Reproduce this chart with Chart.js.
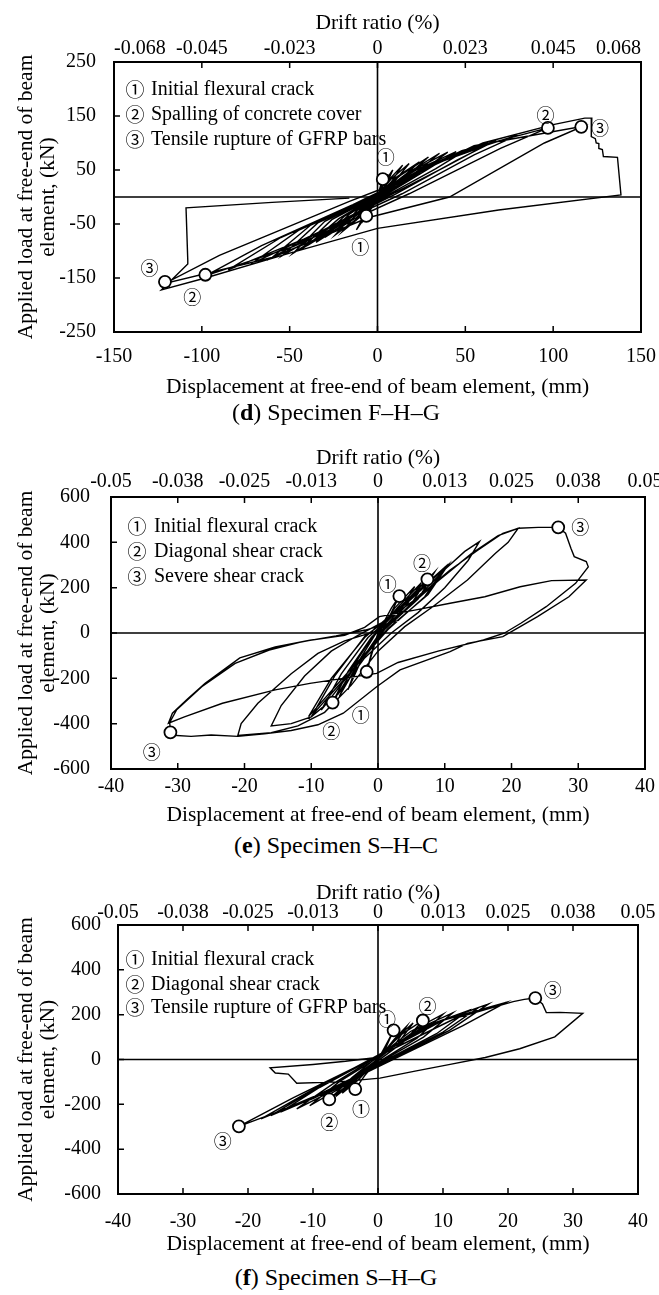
<!DOCTYPE html>
<html lang="en">
<head>
  <meta charset="UTF-8">
  <title>Load-displacement hysteresis</title>
  <script src="https://cdn.jsdelivr.net/npm/chart.js"></script>
  <style>
    body {
      margin: 0;
      background: #fff;
      width: 659px;
      height: 1295px;
      position: relative;
      overflow: hidden;
      font-family: 'Liberation Serif', serif;
    }
    .panel { position: absolute; left: 0; }
    .caption {
      position: absolute;
      left: 0;
      width: 672px;
      text-align: center;
      font-size: 24px;
      line-height: 28px;
      color: #000;
      z-index: 2;
    }
  </style>
</head>
<body>
<canvas id="chartD" class="panel" style="top:0" width="659" height="400"></canvas>
<div class="caption" style="top:398px">(<b>d</b>) Specimen F–H–G</div>
<canvas id="chartE" class="panel" style="top:430px" width="659" height="400"></canvas>
<div class="caption" style="top:831px">(<b>e</b>) Specimen S–H–C</div>
<canvas id="chartF" class="panel" style="top:860px" width="659" height="400"></canvas>
<div class="caption" style="top:1263px">(<b>f</b>) Specimen S–H–G</div>

<script>
  // ---- (d) Specimen F-H-G ----
  var xTicksD = [-150, -100, -50, 0, 50, 100, 150];
  var yTicksD = [-250, -150, -50, 50, 150, 250];
  var driftD = ['-0.068', '-0.045', '-0.023', '0', '0.023', '0.045', '0.068'];
  var notesD = ['Initial flexural crack', 'Spalling of concrete cover', 'Tensile rupture of GFRP bars'];
  // displacement (mm), load (kN) read along the recorded path
  var curveD = [
    [0, 0], [1.5, 18], [3, 33], [1.2, 8], [-1.5, -12], [-6.4, -35], [-2.5, -10], [0, 0],
    [4, 28], [8.7, 50], [4, 15], [-2, -8], [-6, -32], [-12, -61], [-5, -18], [0, -2],
    [3, 22], [6, 42], [3, 12], [-2, -10], [-9, -48], [-4, -14], [0, 0],
    [6, 30], [14.3, 59], [7, 24], [0, 0], [-8, -32], [-20, -64], [-10, -24], [-2, -4],
    [8, 34], [18, 62], [9, 26], [0, 2], [-10, -36], [-24, -70], [-12, -26], [-2, -4],
    [10, 35], [23.9, 65], [12, 30], [1, 2], [-12, -38], [-30, -75], [-16, -32], [-3, -4],
    [13, 40], [29, 74], [15, 34], [1, 1], [-15, -42], [-35, -84], [-19, -36], [-3, -5],
    [16, 42], [35.3, 81], [20, 40], [2, 2], [-18, -45], [-40, -90], [-22, -40], [-4, -5],
    [19, 47], [40, 83], [24, 45], [3, 3], [-20, -48], [-44, -98], [-26, -42], [-5, -6],
    [22, 50], [44.8, 84], [28, 50], [5, 5], [-22, -50], [-48, -104], [-30, -45], [-6, -6],
    [26, 54], [52, 90], [33, 52], [6, 4], [-26, -55], [-54, -108], [-34, -48], [-7, -7],
    [30, 58], [59.8, 93], [38, 55], [8, 5], [-30, -60], [-60, -112], [-38, -52], [-8, -8],
    [35, 65], [67.5, 105], [45, 68], [10, 5], [-35, -68], [-72, -124], [-45, -62], [-10, -10],
    [42, 75], [80, 115], [55, 78], [14, 6], [-42, -78], [-85, -135], [-55, -75], [-12, -12],
    [48, 86], [97, 128], [70, 90], [18, 6], [-48, -92], [-98, -146], [-66, -90], [-14, -14],
    [55, 95], [117, 131], [95, 100], [41, 0], [-5, -38], [-60, -112], [-121, -160], [-90, -108], [-16, -8],
    [0, 12], [60, 100], [100, 134], [118, 146], [122, 146], [121.7, 112], [124, 108], [124.5, 100],
    [126, 99], [126, 90], [128, 88], [128.6, 75], [136.6, 73.5], [138.6, 3.7],
    [69, -24], [0, -58], [-48, -102], [-98, -150], [-123, -172], [-108, -124], [-108, -117],
    [-109, -20], [-60, -10], [-16, -2]
  ];
  var markersD = [[3, 33], [-6.4, -35], [97, 128], [-98, -144], [116, 130], [-121, -157]];
  var tagsD = ['①', '①', '②', '②', '③', '③'];
  var tagPosD = [[4.7, 73.5], [-9.8, -92], [95.6, 152], [-105.4, -185], [126.6, 127], [-129.8, -132]];

  // ---- (e) Specimen S-H-C ----
  var xTicksE = [-40, -30, -20, -10, 0, 10, 20, 30, 40];
  var yTicksE = [-600, -400, -200, 0, 200, 400, 600];
  var driftE = ['-0.05', '-0.038', '-0.025', '-0.013', '0', '0.013', '0.025', '0.038', '0.05'];
  var notesE = ['Initial flexural crack', 'Diagonal shear crack', 'Severe shear crack'];
  var curveE = [
    [0, 0], [2, 110], [3.2, 163], [1.5, 60], [0, 0], [-1, -90], [-1.7, -171], [-0.8, -80], [0, 0],
    [2.5, 110], [5.5, 205], [3.5, 110], [0.5, 10], [-2.5, -120], [-4.5, -250], [-3, -130], [-0.5, -10],
    [3, 115], [6.5, 222], [4.2, 120], [0.8, 12], [-3, -135], [-5.8, -280], [-3.8, -150], [-0.8, -15],
    [3.5, 120], [7.4, 237], [5, 130], [1, 15], [-3.5, -150], [-6.8, -307], [-4.5, -170], [-1, -20],
    [4, 130], [8.5, 270], [6, 150], [1, 15], [-4, -170], [-8.5, -340], [-5.5, -180], [-1.5, -20],
    [5, 150], [10.5, 300], [7.5, 170], [1.5, 20], [-5, -190], [-10.4, -369], [-7, -200], [-2, -20],
    [4.5, 145], [10, 290], [7, 160], [1.5, 15], [-4.5, -185], [-9.8, -360], [-6.5, -190], [-2, -15],
    [1.3, 57], [5.5, 146], [10, 280], [13, 360], [15.2, 403], [13.5, 320], [10, 200], [6, 90], [2, 0],
    [-2, -110], [-6, -270], [-10, -370], [-13, -400], [-16, -410], [-14.5, -320], [-11, -190], [-7, -80], [-3, -10],
    [1.3, 57], [5.5, 146], [10.8, 278], [15, 366], [18.7, 440], [21, 462], [19.5, 400], [17.6, 352],
    [13.4, 234], [8.2, 116], [4, 28],
    [0, -80], [-4, -230], [-8, -350], [-12, -410], [-16, -440], [-21, -452], [-20.5, -400], [-18, -310],
    [-13, -180], [-9, -90], [-5, -35], [0, 10],
    [4, 100], [9, 230], [14, 350], [18, 430], [21, 462], [24, 466], [27, 466], [28.1, 440], [28.9, 374],
    [29.4, 337], [31.2, 315], [31.5, 292], [29.6, 219], [25.2, 116], [21.4, 43], [18.9, -1], [15.8, -31],
    [9, -80], [3, -130], [-0.2, -178], [-10.2, -222], [-15.4, -251], [-23.3, -310], [-29, -370], [-31.4, -398],
    [-30.8, -354], [-28.5, -290], [-25.9, -222], [-20.7, -110], [-15.4, -62], [-10.2, -32], [-5, -10],
    [-2, 25], [0.2, 72], [5.5, 101], [10.8, 131], [16, 160], [21.3, 204], [26, 231], [31.2, 234],
    [28.6, 160], [23.9, 72], [21.3, 28], [18.7, -16], [13.4, -46], [10.8, -82], [3.3, -163], [-0.2, -237],
    [-5.2, -354], [-9, -405], [-13, -430], [-17, -445], [-21, -456], [-25, -450], [-28, -456], [-31.3, -450],
    [-31.1, -438], [-31.2, -395], [-30.2, -340], [-26.4, -237], [-21.4, -134], [-16.3, -75], [-11.3, -38],
    [-6.3, -13], [-1.9, 13], [3.2, 57]
  ];
  var markersE = [[3.2, 163], [-1.7, -171], [7.4, 237], [-6.8, -307], [27, 466], [-31.1, -438]];
  var tagsE = ['①', '①', '②', '②', '③', '③'];
  var tagPosE = [[1.45, 215], [-2.6, -362], [6.6, 307], [-7.0, -435], [30.3, 469], [-33.9, -524]];

  // ---- (f) Specimen S-H-G ----
  var xTicksF = [-40, -30, -20, -10, 0, 10, 20, 30, 40];
  var yTicksF = [-600, -400, -200, 0, 200, 400, 600];
  var driftF = ['-0.05', '-0.038', '-0.025', '-0.013', '0', '0.013', '0.025', '0.038', '0.05'];
  var notesF = ['Initial flexural crack', 'Diagonal shear crack', 'Tensile rupture of GFRP bars'];
  var curveF = [
    [0, 0], [1.5, 80], [2.4, 130], [1, 40], [0, 0], [-2, -70], [-3.5, -132], [-1.5, -50], [0, 0],
    [2.5, 90], [4.4, 148], [2.5, 60], [0, 2], [-3, -90], [-5.5, -150], [-3, -70], [-0.5, -10],
    [3, 100], [5.4, 163], [3, 70], [0, 3], [-3.5, -95], [-6.5, -165], [-3.5, -75], [-0.5, -8],
    [3.5, 110], [6.9, 174], [4, 80], [0.5, 5], [-4, -100], [-7.5, -178], [-4, -80], [-1, -10],
    [5, 125], [10, 202], [6, 95], [1, 5], [-5, -115], [-10.5, -206], [-6, -100], [-1, -10],
    [6, 135], [11.5, 208], [7, 100], [1.5, 8], [-6, -125], [-12.5, -220], [-7, -110], [-1.5, -12],
    [7, 145], [13.8, 217], [9, 115], [2, 10], [-7, -135], [-15, -235], [-9, -125], [-2, -15],
    [8, 155], [15.5, 232], [10, 122], [2.5, 12], [-8, -145], [-16.5, -250], [-10, -138], [-2, -14],
    [9, 165], [17, 248], [11, 130], [3, 15], [-9, -155], [-18, -265], [-11, -150], [-2, -12],
    [10, 175], [19.7, 255], [13, 150], [3, 10], [-10, -175], [-21.4, -298], [-13, -170], [-1, 0],
    [12, 185], [20.8, 258], [22.5, 268], [24.2, 274], [25.3, 248], [25.9, 209], [28, 210], [31.5, 206],
    [27.2, 101], [21.8, 48], [16.5, 9], [11.1, -22], [5.7, -52], [0.3, -83], [-6, -100], [-12.5, -106],
    [-13.8, -65], [-15.8, -60], [-16.6, -37], [-10, -22], [-5, -8], [-0.2, 9]
  ];
  var markersF = [[2.4, 130], [-3.5, -132], [6.9, 174], [-7.5, -178], [24.2, 274], [-21.4, -298]];
  var tagsF = ['①', '①', '②', '②', '③', '③'];
  var tagPosF = [[1.4, 181], [-2.6, -222], [7.6, 240], [-7.5, -280], [26.9, 309], [-23.9, -363]];

  var serif = function (size, lh) { return { family: 'Liberation Serif', size: size, lineHeight: lh || 1.2 }; };
  var glyphFont = '"Noto Sans CJK JP", "DejaVu Sans", sans-serif';

  // box, zero lines, inward ticks, notes and event tags
  function framePlugin(cfg) {
    return {
      id: 'frame',
      beforeDatasetsDraw: function (chart) {
        var ctx = chart.ctx, a = chart.chartArea;
        var x0 = chart.scales.x.getPixelForValue(0);
        var y0 = chart.scales.y.getPixelForValue(0);
        ctx.save();
        ctx.strokeStyle = '#000';
        ctx.lineWidth = 1.6;
        ctx.beginPath();
        ctx.moveTo(x0, a.top); ctx.lineTo(x0, a.bottom);
        ctx.moveTo(a.left, y0); ctx.lineTo(a.right, y0);
        ctx.stroke();
        ctx.restore();
      },
      afterDraw: function (chart) {
        var ctx = chart.ctx, a = chart.chartArea;
        var sx = chart.scales.x, sy = chart.scales.y, st = chart.scales.drift;
        ctx.save();
        ctx.strokeStyle = '#000';
        ctx.lineWidth = 2;
        ctx.strokeRect(a.left, a.top, a.right - a.left, a.bottom - a.top);

        ctx.lineWidth = 1.5;
        ctx.beginPath();
        sx.ticks.forEach(function (t) {
          var px = sx.getPixelForValue(t.value);
          ctx.moveTo(px, a.bottom); ctx.lineTo(px, a.bottom - 6);
        });
        st.ticks.forEach(function (t) {
          var px = st.getPixelForValue(t.value);
          ctx.moveTo(px, a.top); ctx.lineTo(px, a.top + 6);
        });
        sy.ticks.forEach(function (t) {
          var py = sy.getPixelForValue(t.value);
          ctx.moveTo(a.left, py); ctx.lineTo(a.left + 6, py);
        });
        ctx.stroke();

        ctx.fillStyle = '#000';
        ctx.textBaseline = 'middle';
        cfg.notes.forEach(function (txt, i) {
          var yy = a.top + cfg.rows[i];
          ctx.font = '19px ' + glyphFont;
          ctx.textAlign = 'center';
          ctx.fillText(['①', '②', '③'][i], a.left + cfg.glyphX, yy);
          ctx.font = '20px "Liberation Serif"';
          ctx.textAlign = 'left';
          ctx.fillText(txt, a.left + cfg.textX, yy);
        });

        ctx.font = '18px ' + glyphFont;
        ctx.textAlign = 'center';
        cfg.tagPos.forEach(function (p, i) {
          ctx.fillText(cfg.tags[i], sx.getPixelForValue(p[0]), sy.getPixelForValue(p[1]));
        });
        ctx.restore();
      }
    };
  }

  function hysteresisChart(id, cfg) {
    var xMin = cfg.xTicks[0], xMax = cfg.xTicks[cfg.xTicks.length - 1];
    var xStep = cfg.xTicks[1] - cfg.xTicks[0];
    var yMin = cfg.yTicks[0], yMax = cfg.yTicks[cfg.yTicks.length - 1];
    var yStep = cfg.yTicks[1] - cfg.yTicks[0];
    var L = cfg.layout;

    return new Chart(document.getElementById(id), {
      type: 'scatter',
      data: {
        datasets: [{
          data: cfg.markers.map(function (p) { return { x: p[0], y: p[1] }; }),
          pointRadius: 6,
          pointBackgroundColor: '#fff',
          pointBorderColor: '#000',
          pointBorderWidth: 1.8,
          order: 0
        }, {
          data: cfg.curve.map(function (p) { return { x: p[0], y: p[1] }; }),
          showLine: true,
          borderColor: '#000',
          borderWidth: 1.4,
          pointRadius: 0,
          tension: 0,
          order: 1
        }]
      },
      options: {
        responsive: false,
        animation: false,
        devicePixelRatio: 1,
        layout: { padding: { left: 0, top: 0, bottom: 0, right: L.padRight } },
        plugins: { legend: { display: false }, tooltip: { enabled: false } },
        scales: {
          x: {
            type: 'linear', position: 'bottom', min: xMin, max: xMax,
            ticks: { stepSize: xStep, padding: L.bottomLabelPad, color: '#000', font: serif(20), maxRotation: 0, autoSkip: false },
            grid: { display: false, drawTicks: false },
            border: { display: false },
            title: {
              display: true, text: 'Displacement at free-end of beam element, (mm)',
              color: '#000', font: serif(21.5), padding: { top: 0, bottom: L.xTitlePad }
            },
            afterFit: function (s) { s.height = L.bottomH; s.paddingLeft = 0; s.paddingRight = 0; }
          },
          drift: {
            type: 'linear', position: 'top', min: xMin, max: xMax,
            ticks: {
              stepSize: xStep, padding: L.topLabelPad, color: '#000', font: serif(20), maxRotation: 0, autoSkip: false,
              align: L.topAlign,
              callback: function (v, i) { return cfg.drift[i]; }
            },
            grid: { display: false, drawTicks: false },
            border: { display: false },
            title: {
              display: true, text: 'Drift ratio (%)',
              color: '#000', font: serif(21.5), padding: { top: L.driftTitlePad, bottom: 0 }
            },
            afterFit: function (s) { s.height = L.topH; s.paddingLeft = 0; s.paddingRight = 0; }
          },
          y: {
            type: 'linear', position: 'left', min: yMin, max: yMax,
            ticks: { stepSize: yStep, padding: L.yLabelPad, color: '#000', font: serif(20), autoSkip: false },
            grid: { display: false, drawTicks: false },
            border: { display: false },
            title: {
              display: true, text: ['Applied load at free-end of beam', 'element, (kN)'],
              color: '#000', font: serif(21.5, 1.05), padding: { top: 14.7, bottom: 0 }
            },
            afterFit: function (s) { s.width = L.plotLeft; s.paddingTop = 0; s.paddingBottom = 0; }
          }
        }
      },
      plugins: [framePlugin(cfg)]
    });
  }

  hysteresisChart('chartD', {
    xTicks: xTicksD, yTicks: yTicksD, drift: driftD, notes: notesD,
    curve: curveD, markers: markersD, tags: tagsD, tagPos: tagPosD,
    glyphX: 21, textX: 37, rows: [28, 53, 78],
    layout: { plotLeft: 114, padRight: 18, topH: 62, bottomH: 68, yLabelPad: 18, topAlign: 'inner',
              topLabelPad: 1, bottomLabelPad: 13, driftTitlePad: 10.1, xTitlePad: 0 }
  });

  hysteresisChart('chartE', {
    xTicks: xTicksE, yTicks: yTicksE, drift: driftE, notes: notesE,
    curve: curveE, markers: markersE, tags: tagsE, tagPos: tagPosE,
    glyphX: 26, textX: 43, rows: [30, 55, 80],
    layout: { plotLeft: 111, padRight: 14, topH: 67, bottomH: 61, yLabelPad: 21, topAlign: 'center',
              topLabelPad: 3, bottomLabelPad: 6, driftTitlePad: 15.1, xTitlePad: 2.1 }
  });

  hysteresisChart('chartF', {
    xTicks: xTicksF, yTicks: yTicksF, drift: driftF, notes: notesF,
    curve: curveF, markers: markersF, tags: tagsF, tagPos: tagPosF,
    glyphX: 17, textX: 33, rows: [35, 60, 83],
    layout: { plotLeft: 118, padRight: 21, topH: 65, bottomH: 66, yLabelPad: 17, topAlign: 'center',
              topLabelPad: 0, bottomLabelPad: 16, driftTitlePad: 20.1, xTitlePad: 3.1 }
  });
</script>
</body>
</html>
